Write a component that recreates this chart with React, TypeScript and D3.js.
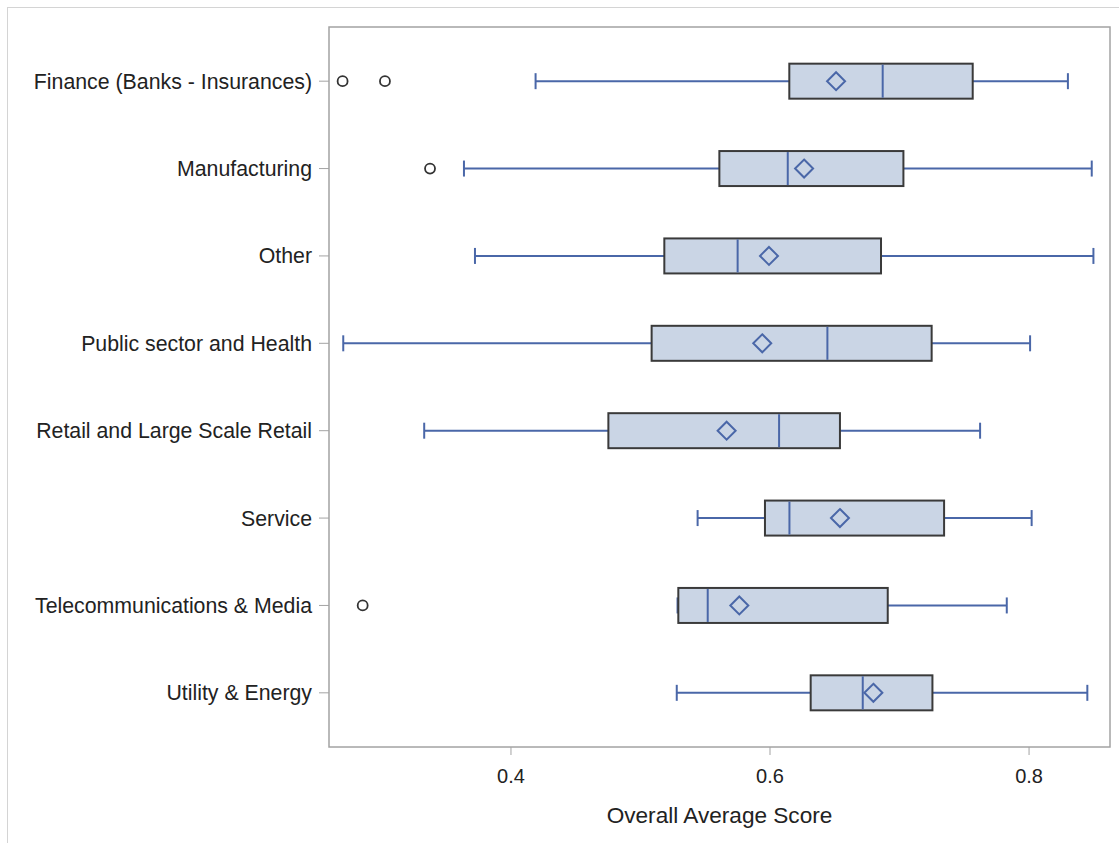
import React from "react";
import * as d3 from "d3";

const categories = [
  "Finance (Banks - Insurances)",
  "Manufacturing",
  "Other",
  "Public sector and Health",
  "Retail and Large Scale Retail",
  "Service",
  "Telecommunications & Media",
  "Utility & Energy",
];
const whiskerLow = [0.419, 0.3637, 0.3722, 0.2705, 0.333, 0.5441, 0.5286, 0.528];
const q1 = [0.6149, 0.5609, 0.5184, 0.5086, 0.4752, 0.5961, 0.5292, 0.6314];
const median = [0.687, 0.6137, 0.575, 0.6443, 0.607, 0.615, 0.5519, 0.6716];
const q3 = [0.7565, 0.703, 0.6857, 0.7248, 0.654, 0.7344, 0.6909, 0.7254];
const whiskerHigh = [0.83, 0.8484, 0.8497, 0.8008, 0.7622, 0.802, 0.7828, 0.845];
const means = [0.651, 0.6263, 0.5992, 0.594, 0.5665, 0.654, 0.5763, 0.6798];
const outliers = [[0.27, 0.3027], [0.3375], [], [], [], [], [0.2855], []];
const xTicks = [0.4, 0.6, 0.8];
const xLabel = "Overall Average Score";

function App() {
  const width = 1119;
  const height = 843;
  const left = 329;
  const right = 1110;
  const top = 27;
  const bottom = 747;
  const boxH = 35;
  const capH = 16;
  const font = "'Liberation Sans', Arial, sans-serif";
  const blue = "#4a67a8";
  const frame = "#a3a3a3";

  const x = d3.scaleLinear().domain([0.2595, 0.8625]).range([left, right]);
  const y = d3.scalePoint<string>().domain(categories).range([top, bottom]).padding(0.62);

  return (
    <svg
      width={width}
      height={height}
      style={{ position: "absolute", left: 0, top: 0, background: "#fff" }}
    >
      <rect x={7.5} y={7.5} width={1200} height={900} fill="none" stroke="#d4d4d4" />

      {/* y ticks and labels */}
      {categories.map((c) => (
        <g key={c}>
          <line x1={left - 10} x2={left} y1={y(c)} y2={y(c)} stroke={frame} />
          <text
            x={left - 17}
            y={y(c)}
            dy="0.35em"
            textAnchor="end"
            fontFamily={font}
            fontSize={21.3}
            fill="#222"
          >
            {c}
          </text>
        </g>
      ))}

      {/* boxes */}
      {categories.map((c, i) => {
        const cy = y(c) as number;
        const d = 9;
        const mx = x(means[i]);
        return (
          <g key={c}>
            <line x1={x(whiskerLow[i])} x2={x(q1[i])} y1={cy} y2={cy} stroke={blue} strokeWidth={2} />
            <line x1={x(q3[i])} x2={x(whiskerHigh[i])} y1={cy} y2={cy} stroke={blue} strokeWidth={2} />
            <line x1={x(whiskerLow[i])} x2={x(whiskerLow[i])} y1={cy - capH / 2} y2={cy + capH / 2} stroke={blue} strokeWidth={2} />
            <line x1={x(whiskerHigh[i])} x2={x(whiskerHigh[i])} y1={cy - capH / 2} y2={cy + capH / 2} stroke={blue} strokeWidth={2} />
            <rect
              x={x(q1[i])}
              y={cy - boxH / 2}
              width={x(q3[i]) - x(q1[i])}
              height={boxH}
              fill="#cad5e5"
              stroke="#3a3a3a"
              strokeWidth={2}
            />
            <line x1={x(median[i])} x2={x(median[i])} y1={cy - boxH / 2 + 1} y2={cy + boxH / 2 - 1} stroke={blue} strokeWidth={2} />
            <path
              d={`M${mx},${cy - d}L${mx + d},${cy}L${mx},${cy + d}L${mx - d},${cy}Z`}
              fill="none"
              stroke={blue}
              strokeWidth={2}
            />
            {outliers[i].map((v, j) => (
              <circle key={j} cx={x(v)} cy={cy} r={5} fill="none" stroke="#333" strokeWidth={1.8} />
            ))}
          </g>
        );
      })}

      {/* frame */}
      <rect x={left} y={top} width={right - left} height={bottom - top} fill="none" stroke={frame} strokeWidth={1.5} />

      {/* x axis */}
      {xTicks.map((t) => (
        <g key={t}>
          <line x1={x(t)} x2={x(t)} y1={bottom} y2={bottom + 8} stroke={frame} />
          <text x={x(t)} y={776} dy="0.35em" textAnchor="middle" fontFamily={font} fontSize={20} fill="#222">
            {t.toFixed(1)}
          </text>
        </g>
      ))}
      <text
        x={(left + right) / 2}
        y={815}
        dy="0.35em"
        textAnchor="middle"
        fontFamily={font}
        fontSize={22.6}
        fill="#222"
      >
        {xLabel}
      </text>
    </svg>
  );
}

export default App;
